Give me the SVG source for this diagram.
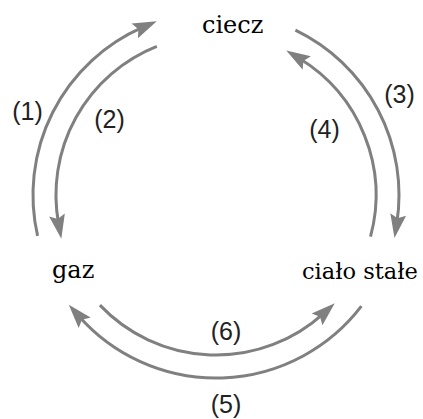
<svg xmlns="http://www.w3.org/2000/svg" width="423" height="419" viewBox="0 0 423 419">
<style>
.arc{fill:none;stroke:#808080;stroke-width:3}
.node{font-family:"DejaVu Serif","Liberation Serif",serif;font-size:24px;fill:#000}
.num{font-family:"Liberation Sans",Arial,sans-serif;font-size:25px;fill:#222;text-anchor:middle}
</style>
<defs>
<marker id="ah" markerUnits="userSpaceOnUse" markerWidth="40" markerHeight="40" refX="0" refY="0" orient="auto" overflow="visible" viewBox="-20 -20 40 40">
<path d="M15,0 L-9,-8 L-5,0 L-9,8 Z" fill="#808080"/>
</marker>
</defs>
<rect width="423" height="419" fill="#fff"/>
<g id="connectors">
<path id="c1" class="arc" d="M37.6,235.9 A183,183 0 0 1 143.0,27.2" marker-end="url(#ah)"/>
<path id="c2" class="arc" d="M156.8,46.3 A160,160 0 0 0 58.6,223.9" marker-end="url(#ah)"/>
<path id="c3" class="arc" d="M295.4,30.1 A183,183 0 0 1 396.8,223.3" marker-end="url(#ah)"/>
<path id="c4" class="arc" d="M370.5,236.7 A160,160 0 0 0 299.1,58.3" marker-end="url(#ah)"/>
<path id="c5" class="arc" d="M361.4,306.2 A183,183 0 0 1 78.7,316.0" marker-end="url(#ah)"/>
<path id="c6" class="arc" d="M99.9,305.1 A160,160 0 0 0 323.7,313.3" marker-end="url(#ah)"/>
</g>
<g id="labels">
<text class="num" x="27.5" y="119.5">(1)</text>
<text class="num" x="109.5" y="127.5">(2)</text>
<text class="num" x="399.5" y="102.5">(3)</text>
<text class="num" x="324.5" y="137.5">(4)</text>
<text class="num" x="226" y="413">(5)</text>
<text class="num" x="226" y="340">(6)</text>
</g>
<g id="ciecz"><text class="node" x="202" y="33">ciecz</text></g>
<g id="gaz"><text class="node" x="52" y="278">gaz</text></g>
<g id="cialo_stale"><text class="node" x="302" y="279" style="font-size:22.5px">ciało stałe</text></g>
</svg>
